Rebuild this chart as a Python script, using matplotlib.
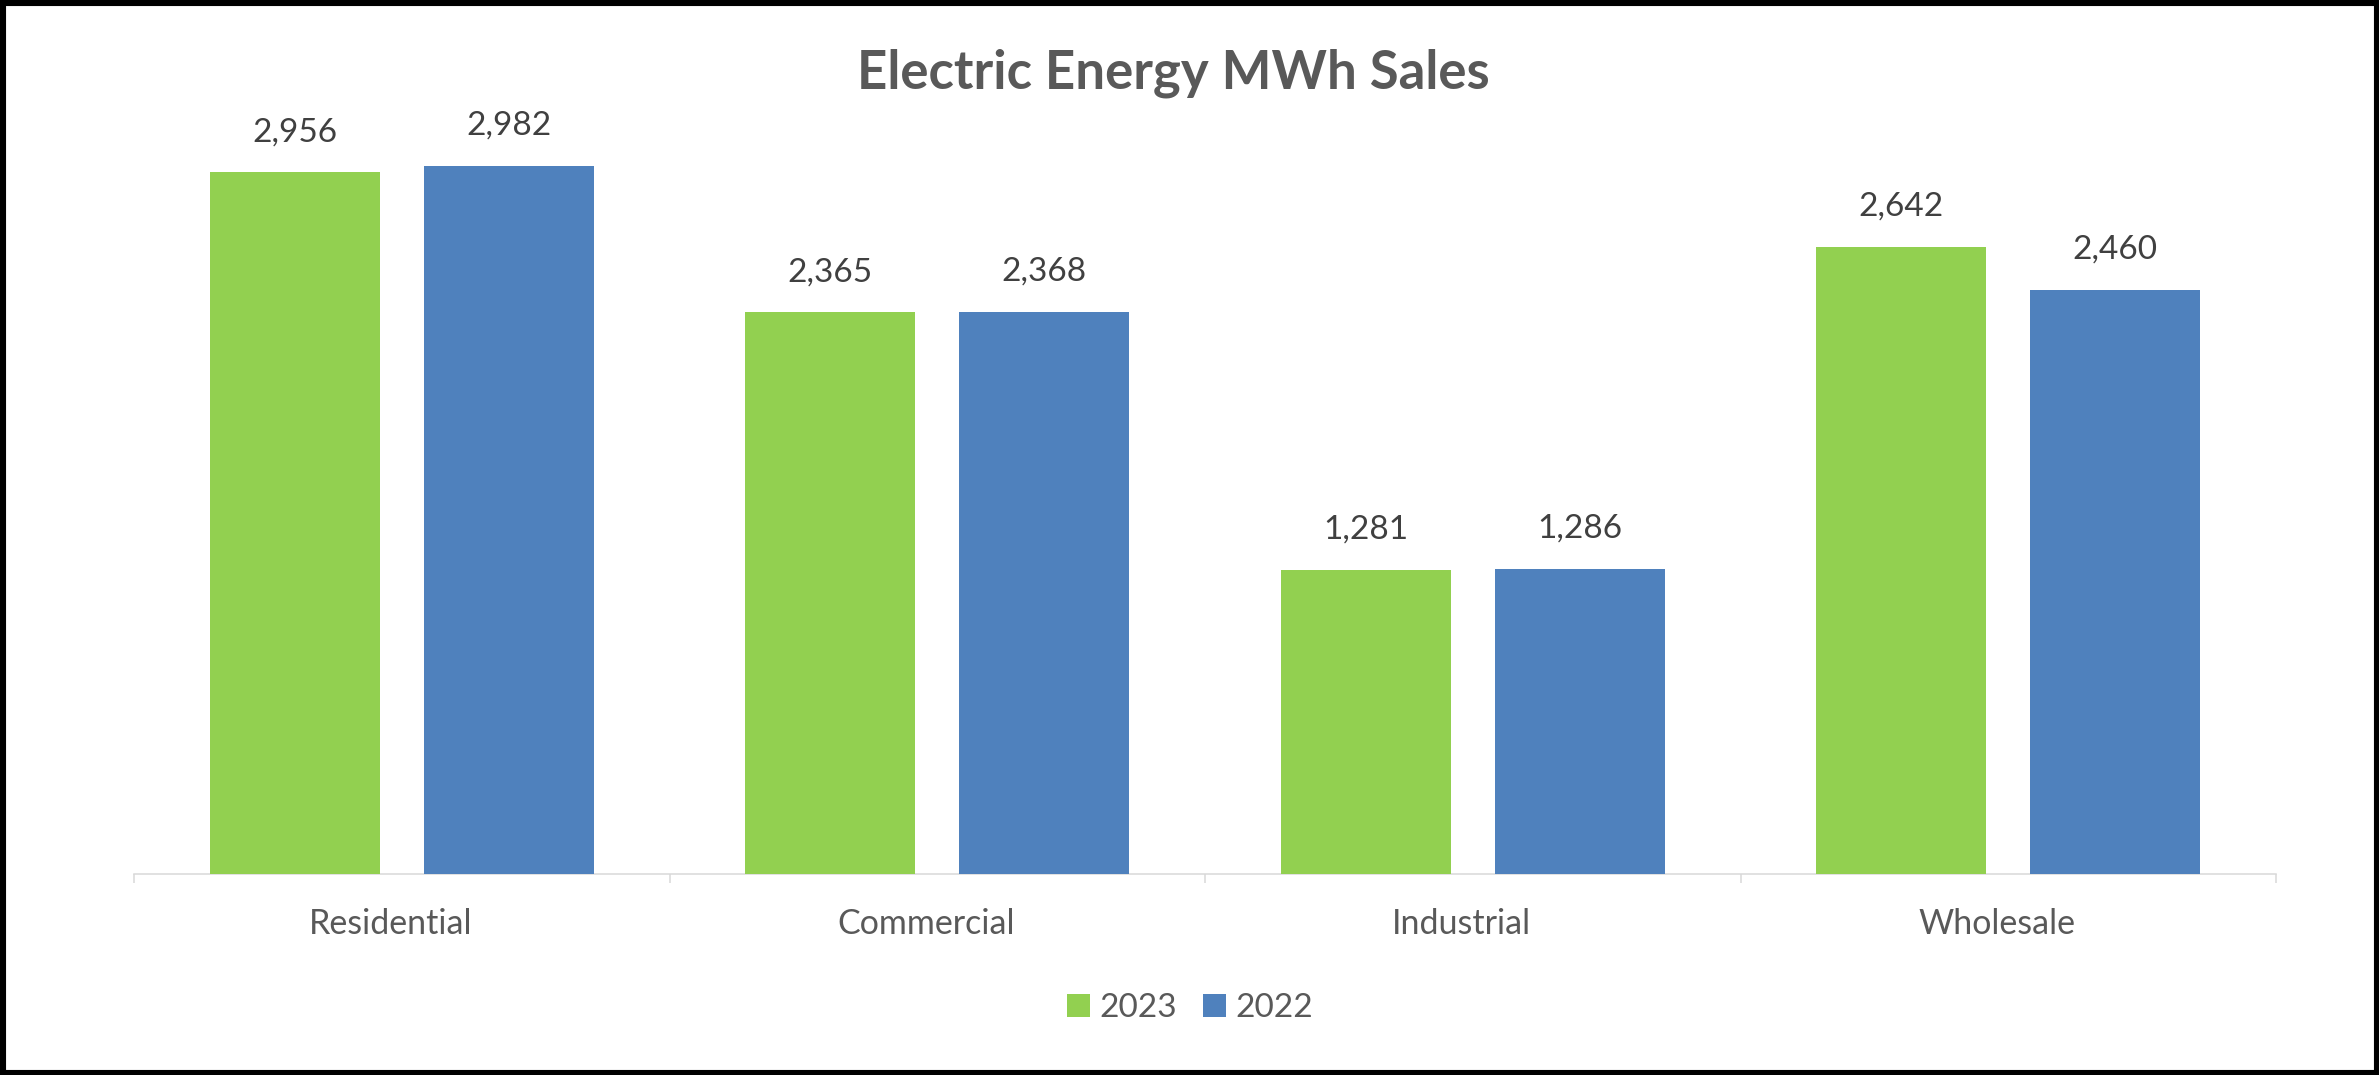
import matplotlib
matplotlib.use("Agg")
import matplotlib.pyplot as plt
from matplotlib.patches import Rectangle
import numpy as np

categories = ["Residential", "Commercial", "Industrial", "Wholesale"]
series_names = ["2023", "2022"]
values_2023 = [2956, 2365, 1281, 2642]
values_2022 = [2982, 2368, 1286, 2460]
title = "Electric Energy MWh Sales"

GREEN = "#92D050"
BLUE = "#4F81BD"
TXT = "#595959"
VAL = "#404040"
AXC = "#D9D9D9"

W, H = 2379, 1075
fig = plt.figure(figsize=(W / 100, H / 100), dpi=100)
plt.rcParams['font.family'] = ['Lato', 'DejaVu Sans']

ax = fig.add_axes([134 / W, 1 - 874 / H, 2142 / W, (874 - 43) / H])
x = np.arange(len(categories))
bw = 0.3175
b1 = ax.bar(x - 0.2, values_2023, width=bw, color=GREEN, label=series_names[0], zorder=2)
b2 = ax.bar(x + 0.2, values_2022, width=bw, color=BLUE, label=series_names[1], zorder=2)

ax.set_xlim(-0.5, len(categories) - 0.5)
ax.set_ylim(0, 3500)

for s in ["top", "left", "right"]:
    ax.spines[s].set_visible(False)
ax.spines["bottom"].set_color(AXC)
ax.spines["bottom"].set_linewidth(1.1)
ax.spines["bottom"].set_zorder(1)
ax.set_yticks([])
ax.set_xticks(np.arange(-0.5, len(categories), 1.0))
ax.set_xticklabels([])
ax.tick_params(axis="x", length=6.5, width=1.1, color=AXC, direction="out")

for bars, vals in ((b1, values_2023), (b2, values_2022)):
    for rect, v in zip(bars, vals):
        ax.annotate(f"{v:,}", xy=(rect.get_x() + rect.get_width() / 2, v),
                    xytext=(0, 31), textcoords="offset pixels",
                    ha="center", va="baseline", fontsize=24, color=VAL)

for i, c in enumerate(categories):
    ax.annotate(c, xy=(i, 0), xycoords=("data", "axes fraction"),
                xytext=(-11, -60), textcoords="offset pixels",
                ha="center", va="baseline", fontsize=24.5, color=TXT)

fig.text(1173 / W, 1 - 88 / H, title, ha="center", va="baseline",
         fontsize=38, fontweight="bold", color=TXT)

fig.legend(handles=[b1, b2], labels=series_names, loc="center",
           bbox_to_anchor=(1190 / W, 1 - 1008 / H), ncol=2, frameon=False,
           fontsize=24, handlelength=0.69, handleheight=0.69,
           handletextpad=0.28, columnspacing=0.8, labelcolor=TXT,
           borderpad=0, borderaxespad=0)

fig.patches.append(Rectangle((0, 0), 1, 1, transform=fig.transFigure,
                             fill=False, lw=8, ec="black", zorder=10))

fig.savefig("out.png", dpi=100, facecolor="white")
